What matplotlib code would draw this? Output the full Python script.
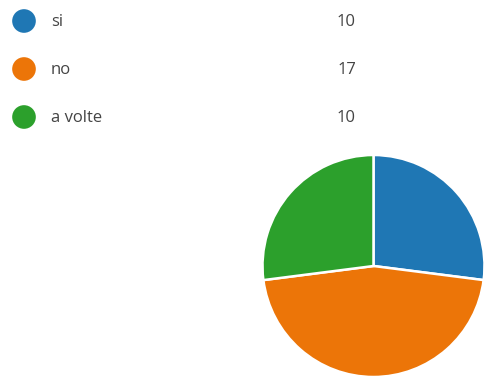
import matplotlib.pyplot as plt

labels = ["si", "no", "a volte"]
counts = [10, 17, 10]
colors = ["#1f77b4", "#ec7508", "#2ca02c"]

W, H = 493, 383
fig = plt.figure(figsize=(W / 100, H / 100), dpi=100)
fig.patch.set_facecolor("white")

# pie: centre ~ (373, 266), radius ~ 110 px
cx, cy, r = 373.5, 266, 111
ax = fig.add_axes([(cx - r) / W, 1 - (cy + r) / H, 2 * r / W, 2 * r / H])
ax.pie(counts, colors=colors, startangle=90, counterclock=False,
       wedgeprops=dict(edgecolor="white", linewidth=1.8))
ax.set_xlim(-1, 1)
ax.set_ylim(-1, 1)
ax.set_aspect("equal")
ax.axis("off")

# legend rows
lax = fig.add_axes([0, 0, 1, 1])
lax.set_xlim(0, W)
lax.set_ylim(H, 0)
lax.axis("off")
ys = [21, 69, 117]
for y, lab, n, col in zip(ys, labels, counts, colors):
    lax.scatter([24], [y], s=290, color=col, edgecolors="none")
    lax.text(51, y + 1, lab, fontsize=12, color="#444444", va="center",
             family="Open Sans")
    lax.text(356, y + 1, str(n), fontsize=12, color="#444444", va="center",
             ha="right", family="Open Sans")

fig.savefig("out.png", dpi=100)
